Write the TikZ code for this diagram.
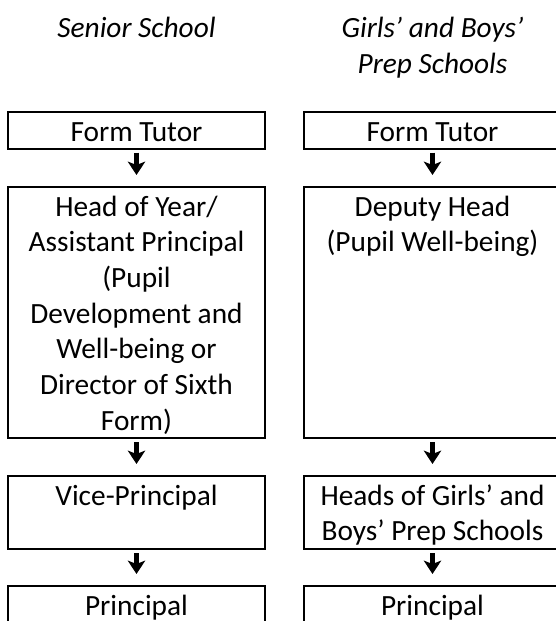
\documentclass[tikz,border=0pt]{standalone}
\usepackage{fontspec}
\setmainfont{Carlito}
\usetikzlibrary{arrows.meta}

\newcommand{\cell}[2]{\parbox[t][#1][t]{192.75pt}{\centering\strut #2}}
\newcommand{\cellfont}{\fontsize{22}{26.8}\selectfont}

\tikzset{
  stage/.style={draw, line width=1.5pt, inner xsep=0pt, inner ysep=3pt, anchor=north},
  pass/.style={line width=3.2pt, -{Stealth[length=10pt,width=13pt,inset=2.5pt]}, shorten <=2.25pt, shorten >=8.25pt},
  heading/.style={anchor=north, inner sep=0pt, align=center, font=\cellfont\itshape}
}

\begin{document}
\begin{tikzpicture}[x=0.75pt, y=-0.75pt, font=\cellfont]

\useasboundingbox (0,0) rectangle (556,621);
\clip (0,0) rectangle (556,621);

\node[heading] (ssTitle) at (136.5,12) {\strut Senior School};
\node[heading] (psTitle) at (432.5,12) {\strut Girls’ and Boys’\\Prep Schools};

% senior school
\node[stage] (ssTutor) at (136.5,111) {\cell{21.4pt}{Form Tutor}};
\node[stage] (ssHead) at (136.5,186) {\cell{182.25pt}{Head of Year/\\Assistant Principal\\(Pupil\\Development and\\Well-being or\\Director of Sixth\\Form)}};
\node[stage] (ssVice) at (136.5,475) {\cell{48.75pt}{Vice-Principal}};
\node[stage] (ssPrincipal) at (136.5,585) {\cell{31.5pt}{Principal}};

\draw[pass] (ssTutor) -- (ssHead);
\draw[pass] (ssHead) -- (ssVice);
\draw[pass] (ssVice) -- (ssPrincipal);

% prep schools
\node[stage] (psTutor) at (432.5,111) {\cell{21.4pt}{Form Tutor}};
\node[stage] (psDeputy) at (432.5,186) {\cell{182.25pt}{Deputy Head\\(Pupil Well-being)}};
\node[stage] (psHeads) at (432.5,475) {\cell{48.75pt}{Heads of Girls’ and\\Boys’ Prep Schools}};
\node[stage] (psPrincipal) at (432.5,585) {\cell{31.5pt}{Principal}};

\draw[pass] (psTutor) -- (psDeputy);
\draw[pass] (psDeputy) -- (psHeads);
\draw[pass] (psHeads) -- (psPrincipal);

\end{tikzpicture}
\end{document}
